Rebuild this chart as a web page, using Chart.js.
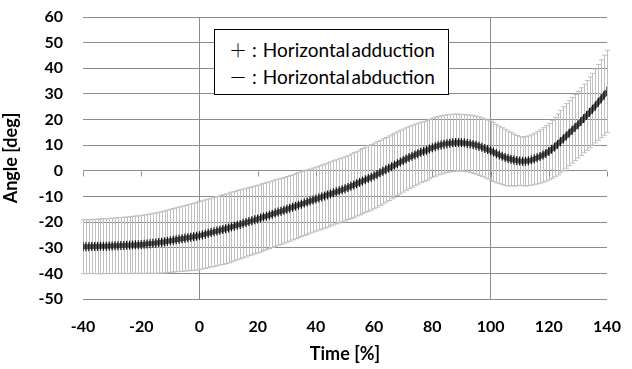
<!DOCTYPE html>
<html>
<head>
<meta charset="utf-8">
<script src="https://cdn.jsdelivr.net/npm/chart.js@4.4.1/dist/chart.umd.min.js"></script>
<style>
  html, body { margin: 0; padding: 0; background: #fff; }
  #wrap { position: relative; width: 632px; height: 369px; }
  #legend {
    position: absolute; left: 214px; top: 29px; width: 235px; height: 66px;
    border: 1px solid #000; background: #fff; box-sizing: border-box;
    font-family: Lato, 'Open Sans', sans-serif; font-size: 19px; color: #000;
    padding: 6px 0 0 14px; line-height: 26px; word-spacing: -3px;
  }
  #legend div { white-space: nowrap; }
  #legend .sym { font-family: 'Noto Sans CJK JP', 'DejaVu Sans', sans-serif; font-size: 18px; font-weight: 300; margin-right: 5px; }
  #legend .col { margin-right: 6px; }
</style>
</head>
<body>
<div id="wrap">
  <canvas id="chart" width="632" height="369"></canvas>
  <div id="legend">
    <div><span class="sym">＋</span><span class="col">:</span>Horizontal adduction</div>
    <div><span class="sym">－</span><span class="col">:</span>Horizontal abduction</div>
  </div>
</div>
<script>
// Config
const TIME_START = -40;   // first sample [%]
const TIME_STEP = 1;      // one sample per 1 %
const X_TICKS = [-40, -20, 0, 20, 40, 60, 80, 100, 120, 140];
const Y_TICKS = [-50, -40, -30, -20, -10, 0, 10, 20, 30, 40, 50, 60];

// Mean angle [deg], -40 .. 140 %
const MEAN = [
  -29.6, -29.6, -29.6, -29.5, -29.5, -29.5, -29.4, -29.4, -29.4, -29.3, -29.3,
  -29.2, -29.2, -29.1, -29.1, -29.0, -29.0, -28.9, -28.8, -28.8, -28.7,
  -28.6, -28.5, -28.4, -28.3, -28.2, -28.0, -27.9, -27.7, -27.5, -27.3,
  -27.1, -26.9, -26.7, -26.5, -26.3, -26.1, -25.9, -25.7, -25.5, -25.3,
  -25.0, -24.7, -24.4, -24.1, -23.8, -23.5, -23.2, -22.9, -22.6, -22.3,
  -21.9, -21.6, -21.2, -20.9, -20.5, -20.2, -19.8, -19.5, -19.1, -18.8,
  -18.4, -18.0, -17.7, -17.3, -16.9, -16.5, -16.1, -15.8, -15.4, -15.0,
  -14.6, -14.2, -13.8, -13.4, -13.0, -12.6, -12.2, -11.8, -11.4, -11.0,
  -10.6, -10.2, -9.8, -9.4, -9.0, -8.6, -8.2, -7.8, -7.4, -7.0,
  -6.5, -6.0, -5.5, -5.0, -4.5, -4.0, -3.5, -3.0, -2.5, -2.0,
  -1.4, -0.8, -0.2, 0.4, 1.0, 1.6, 2.2, 2.8, 3.4, 4.0,
  4.6, 5.2, 5.7, 6.2, 6.7, 7.2, 7.6, 8.0, 8.5, 9.0,
  9.4, 9.8, 10.1, 10.4, 10.6, 10.8, 10.9, 11.0, 11.0, 11.0,
  10.9, 10.7, 10.5, 10.3, 10.0, 9.6, 9.2, 8.7, 8.3, 7.8,
  7.3, 6.7, 6.2, 5.7, 5.2, 4.8, 4.5, 4.2, 4.0, 3.8,
  3.7, 3.7, 3.9, 4.2, 4.6, 5.1, 5.6, 6.2, 6.8, 7.5,
  8.4, 9.3, 10.3, 11.4, 12.5, 13.6, 14.7, 15.8, 16.9, 18.0,
  19.2, 20.4, 21.6, 22.8, 24.0, 25.3, 26.7, 28.1, 29.5, 31.0
];

// Standard deviation [deg], -40 .. 140 %
const SD = [
  10.5, 10.5, 10.5, 10.6, 10.6, 10.6, 10.7, 10.7, 10.7, 10.8, 10.8,
  10.8, 10.9, 10.9, 11.0, 11.0, 11.1, 11.1, 11.2, 11.2, 11.3,
  11.4, 11.5, 11.6, 11.7, 11.8, 11.9, 12.0, 12.1, 12.2, 12.3,
  12.4, 12.5, 12.6, 12.7, 12.8, 12.9, 13.0, 13.1, 13.2, 13.3,
  13.3, 13.4, 13.4, 13.4, 13.5, 13.5, 13.5, 13.6, 13.6, 13.6,
  13.6, 13.5, 13.5, 13.5, 13.4, 13.4, 13.3, 13.3, 13.2, 13.2,
  13.2, 13.1, 13.1, 13.0, 13.0, 13.0, 12.9, 12.9, 12.8, 12.8,
  12.8, 12.7, 12.7, 12.7, 12.6, 12.6, 12.6, 12.5, 12.5, 12.5,
  12.5, 12.5, 12.5, 12.5, 12.5, 12.5, 12.5, 12.5, 12.5, 12.5,
  12.5, 12.6, 12.6, 12.6, 12.7, 12.7, 12.7, 12.8, 12.8, 12.8,
  12.8, 12.7, 12.7, 12.6, 12.6, 12.5, 12.5, 12.4, 12.4, 12.3,
  12.2, 12.2, 12.1, 12.0, 11.9, 11.8, 11.7, 11.7, 11.6, 11.5,
  11.5, 11.4, 11.4, 11.3, 11.3, 11.2, 11.2, 11.1, 11.1, 11.0,
  11.1, 11.1, 11.2, 11.3, 11.3, 11.4, 11.4, 11.5, 11.5, 11.6,
  11.5, 11.4, 11.2, 11.1, 11.0, 10.7, 10.4, 10.1, 9.8, 9.5,
  9.5, 9.6, 9.7, 9.8, 10.0, 10.2, 10.4, 10.6, 10.8, 11.0,
  11.3, 11.6, 11.9, 12.2, 12.5, 12.6, 12.7, 12.8, 12.9, 13.0,
  13.2, 13.4, 13.6, 13.8, 14.0, 14.4, 14.8, 15.2, 15.6, 16.0
];

const TIMES = MEAN.map((_, i) => TIME_START + i * TIME_STEP);

const FONT = "Lato, 'Open Sans', sans-serif";
const GRID_COLOR = '#8c8c8c';

/** Error bars (mean ± SD) drawn behind the mean line */
const errorBars = {
  id: 'errorBars',
  beforeDatasetsDraw(chart) {
    const { ctx, scales: { x, y } } = chart;
    const cap = 2.5;
    ctx.save();
    ctx.strokeStyle = '#bfbfbf';
    ctx.lineWidth = 1;
    ctx.beginPath();
    TIMES.forEach((t, i) => {
      const px = Math.round(x.getPixelForValue(t)) + 0.5;
      const top = y.getPixelForValue(MEAN[i] + SD[i]);
      const bot = y.getPixelForValue(MEAN[i] - SD[i]);
      ctx.moveTo(px, top); ctx.lineTo(px, bot);
      ctx.moveTo(px - cap, top); ctx.lineTo(px + cap, top);
      ctx.moveTo(px - cap, bot); ctx.lineTo(px + cap, bot);
    });
    ctx.stroke();
    ctx.restore();
  }
};

/** Short tick marks hanging from the y = 0 axis line */
const zeroAxisTicks = {
  id: 'zeroAxisTicks',
  beforeDatasetsDraw(chart) {
    const { ctx, scales: { x, y } } = chart;
    const y0 = Math.round(y.getPixelForValue(0)) + 0.5;
    ctx.save();
    ctx.strokeStyle = GRID_COLOR;
    ctx.lineWidth = 1;
    ctx.beginPath();
    X_TICKS.forEach(t => {
      const px = Math.round(x.getPixelForValue(t)) + 0.5;
      ctx.moveTo(px, y0); ctx.lineTo(px, y0 + 5);
    });
    ctx.stroke();
    ctx.restore();
  }
};

new Chart(document.getElementById('chart'), {
  type: 'line',
  data: {
    datasets: [{
      label: 'Mean',
      data: TIMES.map((t, i) => ({ x: t, y: MEAN[i] })),
      borderColor: '#595959',
      borderWidth: 5,
      pointStyle: 'line',
      pointRotation: 90,
      pointRadius: 4.5,
      pointBorderColor: '#111',
      pointBorderWidth: 1.2,
      tension: 0
    }]
  },
  options: {
    responsive: false,
    animation: false,
    layout: { padding: { left: 0, right: 25, top: 17, bottom: 0 } },
    plugins: { legend: { display: false }, tooltip: { enabled: false } },
    scales: {
      x: {
        type: 'linear',
        min: -40, max: 140,
        afterBuildTicks: s => { s.ticks = X_TICKS.map(v => ({ value: v })); },
        afterFit: s => { s.height = 70; s.paddingLeft = 0; s.paddingRight = 0; },
        border: { display: false },
        grid: {
          drawTicks: false,
          color: c => (c.tick && (c.tick.value === 0 || c.tick.value === 100)) ? GRID_COLOR : 'rgba(0,0,0,0)'
        },
        ticks: { padding: 18, color: '#000', font: { family: FONT, size: 16, weight: 'bold' } },
        title: {
          display: true, text: 'Time [%]', color: '#000',
          font: { family: FONT, size: 18, weight: 'bold' }, padding: { top: 0, bottom: 4 }
        }
      },
      y: {
        min: -50, max: 60,
        afterBuildTicks: s => { s.ticks = Y_TICKS.map(v => ({ value: v })); },
        afterFit: s => { s.width = 83; s.paddingTop = 0; s.paddingBottom = 0; },
        border: { display: false },
        grid: { drawTicks: false, color: GRID_COLOR },
        ticks: { padding: 20, color: '#000', font: { family: FONT, size: 16, weight: 'bold' } },
        title: {
          display: true, text: 'Angle [deg]', color: '#000',
          font: { family: FONT, size: 18, weight: 'bold' }, padding: { top: 0, bottom: 0 }
        }
      }
    }
  },
  plugins: [errorBars, zeroAxisTicks]
});
</script>
</body>
</html>
